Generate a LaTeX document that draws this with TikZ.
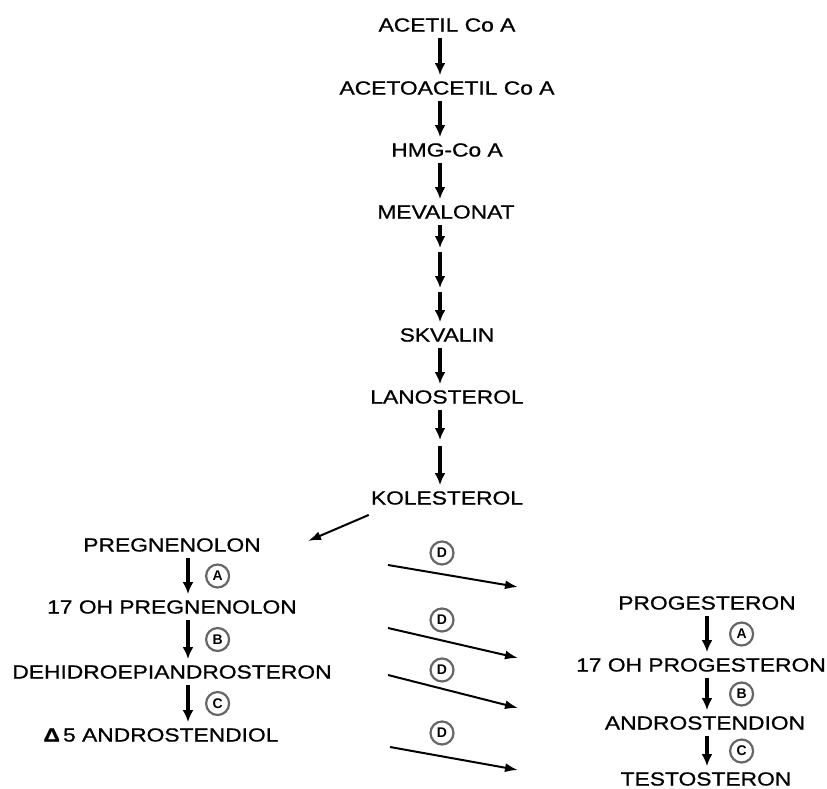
\documentclass[tikz,border=0pt]{standalone}
\usepackage{fontspec}
\setmainfont{Liberation Sans}
\newfontfamily\widefont[FakeStretch=1.2,FakeBold=0.8]{Liberation Sans}
\usepackage{tikz}
\usetikzlibrary{arrows.meta,shapes,positioning}

\tikzset{
    compound/.style={font=\widefont\fontsize{19}{21}\selectfont, inner sep=1pt},
    rxn/.style={-{Latex[length=12pt,width=11pt]}, line width=3.2pt, shorten <=5pt, shorten >=5pt},
    conv/.style={-{Latex[length=13pt,width=9pt]}, line width=2pt},
    enzyme/.style={circle, draw=black!60, line width=2.2pt, inner sep=0pt, minimum size=23pt,
        font=\bfseries\fontsize{14}{14}\selectfont}
}

\begin{document}
\begin{tikzpicture}[x=1pt,y=-1pt]
    \useasboundingbox (0,0) rectangle (827,789);
    \coordinate (col) at (440,0);
    \coordinate (lcol) at (188,0);
    \coordinate (rcol) at (707,0);

    \node[compound] (acetil) at (447,25) {ACETIL Co A};
    \node[compound] (acetoacetil) at (447,88) {ACETOACETIL Co A};
    \node[compound] (hmg) at (447,150) {HMG-Co A};
    \node[compound] (meval) at (446,212) {MEVALONAT};
    \node[compound] (skval) at (447,335) {SKVALIN};
    \node[compound] (lanost) at (447,397) {LANOSTEROL};
    \node[compound] (koles) at (447,498) {KOLESTEROL};
    \coordinate (m1) at (440,250);
    \coordinate (m2) at (440,290);
    \coordinate (l1) at (440,443);

    \draw[rxn] (acetil.south -| col) -- (acetoacetil.north -| col);
    \draw[rxn] (acetoacetil.south -| col) -- (hmg.north -| col);
    \draw[rxn] (hmg.south -| col) -- (meval.north -| col);
    \draw[rxn, shorten >=2pt] (meval.south -| col) -- (m1);
    \draw[rxn, shorten <=2pt, shorten >=2pt] (m1) -- (m2);
    \draw[rxn, shorten <=2pt] (m2) -- (skval.north -| col);
    \draw[rxn] (skval.south -| col) -- (lanost.north -| col);
    \draw[rxn, shorten >=3pt] (lanost.south -| col) -- (l1);
    \draw[rxn, shorten <=3pt] (l1) -- (koles.north -| col);

    \node[compound] (pregn) at (172,545) {PREGNENOLON};
    \node[compound] (ohpregn) at (172,607) {17 OH PREGNENOLON};
    \node[compound] (dhea) at (172,672) {DEHIDROEPIANDROSTERON};
    \node[compound] (andiol) at (161,735) {{\bfseries Δ}\,5 ANDROSTENDIOL};
    \coordinate (ptip) at (308,541);
    \draw[conv] ([xshift=-1pt,yshift=-9pt]koles.south west) -- (ptip);

    \draw[rxn] (pregn.south -| lcol) -- node[enzyme, right=17pt] (ea) {A} (ohpregn.north -| lcol);
    \draw[rxn] (ohpregn.south -| lcol) -- node[enzyme, right=17pt] (eb) {B} (dhea.north -| lcol);
    \draw[rxn] (dhea.south -| lcol) -- node[enzyme, right=17pt] (ec) {C} (andiol.north -| lcol);

    \node[compound] (proges) at (707,603) {PROGESTERON};
    \node[compound] (ohproges) at (701,665) {17 OH PROGESTERON};
    \node[compound] (andion) at (705,723) {ANDROSTENDION};
    \node[compound] (testo) at (706,779) {TESTOSTERON};

    \draw[rxn] (proges.south -| rcol) -- node[enzyme, right=22pt] (ra) {A} (ohproges.north -| rcol);
    \draw[rxn] (ohproges.south -| rcol) -- node[enzyme, right=22pt] (rb) {B} (andion.north -| rcol);
    \draw[rxn] (andion.south -| rcol) -- node[enzyme, right=22pt] (rc) {C} (testo.north -| rcol);

    \coordinate (d1s) at (388,565); \coordinate (d1e) at (518,587);
    \coordinate (d2s) at (388,628); \coordinate (d2e) at (518,658);
    \coordinate (d3s) at (388,675); \coordinate (d3e) at (518,708);
    \coordinate (d4s) at (390,747); \coordinate (d4e) at (518,770);
    \draw[conv] (d1s) -- (d1e);
    \draw[conv] (d2s) -- (d2e);
    \draw[conv] (d3s) -- (d3e);
    \draw[conv] (d4s) -- (d4e);
    \node[enzyme] (ed1) at (442,553) {D};
    \node[enzyme] (ed2) at (442,620) {D};
    \node[enzyme] (ed3) at (442,670) {D};
    \node[enzyme] (ed4) at (442,733) {D};
\end{tikzpicture}
\end{document}
